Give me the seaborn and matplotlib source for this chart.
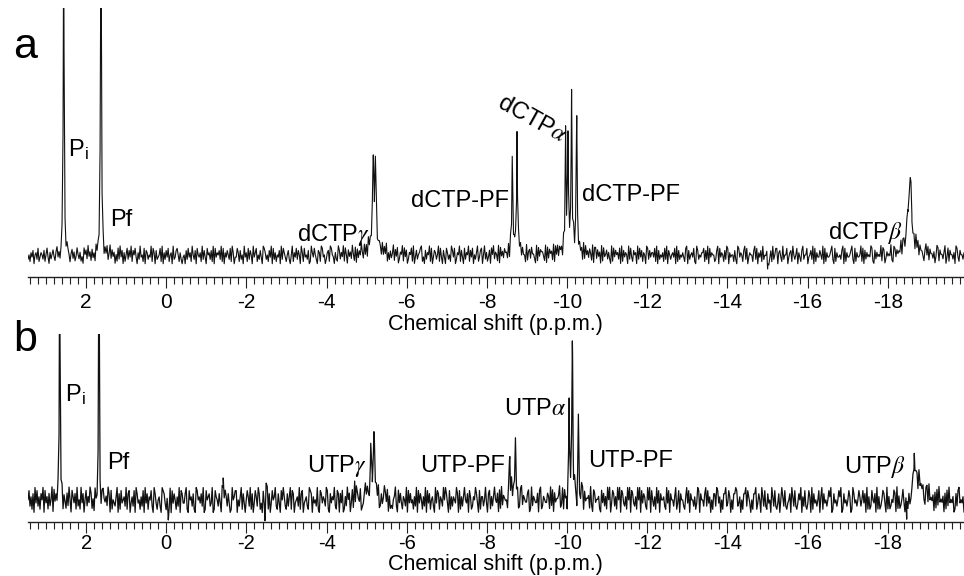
import numpy as np
import pandas as pd
import matplotlib
matplotlib.use("Agg")
import matplotlib.pyplot as plt
import seaborn as sns
from matplotlib.ticker import FixedLocator, FixedFormatter, MultipleLocator

# ---------------- data ----------------
X_LEFT, X_RIGHT = 3.45, -19.9          # ppm shown
TICKS = [2, 0, -2, -4, -6, -8, -10, -12, -14, -16, -18]
TICK_LABELS = ["2", "0", "-2", "-4", "-6", "-8", "-10", "-12", "-14", "-16", "-18"]

# baseline noise traces (digit codes, one per ~0.025 ppm, centred on 5)
NOISE_A = ("3526471563824653725841635742683514762538641573624853"
           "6241857394627351846295371648259374615283947162583749"
           "2758416394528176354928617345829163748256193478526314"
           "5173846295371854629374185637291846573928164753829614"
           "4862735194628375194682537419863527491836254719386425"
           "7315926483751962845371296485317629845136729854163297"
           "3649285174639528173649528371946258379146528374915263"
           "5927481365928471365829147356892417365928147635928417"
           "4186352974813659274183659274815369247815936247185936"
           "5291846375528193746612958374419267385531928476642918"
           "3756291848375619284473562918853746192846375291883746"
           "1928457363192847563819274651938427561938472651983746"
           "6482917354628391753564819273546428917356482197354668"
           "2739184655237918465273981645527319846527938146552793"
           "8164729355861472935881674293558146729535816427935581"
           "4573918264475391826445793182644537918264457931826445"
           "9281736454982173645492871364549218736454928713645492"
           "3619482755316948275536149827553691482755361984275536")
NOISE_B = ("5836271948362759184627359184637295816427395186472935"
           "2947158364972518436921785463971825436917284563927814"
           "6381974526381947265831974256319874265391847526391874"
           "4792185637219856473912856734912865374192586374129568"
           "8153692741586392714863972418536927148569327418596327"
           "3692871456392781456329871645392187465398217465932871"
           "7481263957148263975481236957412836957481263597481623"
           "2569318474265391847452639184752639184725631948726539"
           "5974182636549718263695471862365974182663594178263695"
           "4718293654417829365447128936544781293654471892365447"
           "6293817455692381745562398174556239817455629318745562"
           "1847362959148736295918743629591874362959184763295918"
           "5362948175563294817553692481755326948175536249817553"
           "7938461527739846152779348615277983461527793864152779"
           "2475196383274519638324715963832457196383247591638324"
           "8619274535816927453586912745358691274535861297453586"
           "3584719262385471926235874192623548719262358417926235"
           "6127839454621783945461728394546172839454612738945461")
NOISE_SCALE_A = 2.2
NOISE_SCALE_B = 3.1

# peak tables: position (ppm), height, half-width (ppm)
PEAK_POS_A = [2.56, 1.63, -5.16, -5.22, -5.19, -8.63, -8.75, -8.69,
              -9.96, -10.02, -10.11, -10.24, -10.10, -18.56, -18.50, -18.60, -15.0]
PEAK_H_A = [330, 330, 76, 74, 18, 90, 115, 10,
            110, 106, 146, 130, 14, 56, 24, 10, -14]
PEAK_W_A = [0.012, 0.014, 0.018, 0.018, 0.12, 0.012, 0.012, 0.10,
            0.012, 0.012, 0.012, 0.012, 0.15, 0.035, 0.06, 0.15, 0.01]

PEAK_POS_B = [2.66, 1.68, -4.70, -5.10, -5.18, -5.14, -8.57, -8.71, -8.65,
              -10.05, -10.13, -10.28, -10.00, -10.24, -10.15,
              -18.66, -18.80, -18.47, -1.42, -2.49, -2.46, -0.05]
PEAK_H_B = [260, 260, 18, 44, 56, 12, 38, 56, 8,
            92, 145, 80, -20, -22, 12,
            40, 16, -22, 22, 18, -22, -20]
PEAK_W_B = [0.010, 0.010, 0.008, 0.015, 0.015, 0.12, 0.012, 0.012, 0.10,
            0.012, 0.012, 0.012, 0.008, 0.008, 0.12,
            0.03, 0.12, 0.012, 0.008, 0.008, 0.008, 0.008]

LABELS_A = ["dCTP$\\gamma$", "dCTP-PF", "dCTP-PF", "dCTP$\\beta$"]
LABEL_X_A = [-4.16, -7.33, -11.60, -17.43]
LABEL_Y_A = [14, 48, 54, 16]
LABELS_B = ["UTP$\\gamma$", "UTP-PF", "UTP$\\alpha$", "UTP-PF", "UTP$\\beta$"]
LABEL_X_B = [-4.25, -7.39, -9.20, -11.58, -17.68]
LABEL_Y_B = [28, 28, 85, 33, 27]

# ---------------- style ----------------
sns.set_style("white")
plt.rcParams["font.family"] = ["Liberation Sans", "DejaVu Sans"]
plt.rcParams["mathtext.fontset"] = "stix"
plt.rcParams["axes.unicode_minus"] = False
plt.rcParams["text.color"] = "black"
plt.rcParams["xtick.color"] = "black"
plt.rcParams["axes.labelcolor"] = "black"

W, H = 964, 576
fig = plt.figure(figsize=(W / 100, H / 100), dpi=100)
ax_a = fig.add_axes([28 / W, 1 - 277 / H, 936 / W, 269 / H])
ax_b = fig.add_axes([28 / W, 1 - 522 / H, 936 / W, 188 / H])


def build(noise, scale, pos, hts, wid):
    vals = np.array([int(c) for c in noise], dtype=float)
    xg = np.linspace(X_LEFT, X_RIGHT, len(vals))
    df = pd.concat([pd.DataFrame({"ppm": xg, "I": (vals - 5) * scale}),
                    pd.DataFrame({"ppm": pos, "I": 0.0})], ignore_index=True)
    x = df["ppm"].to_numpy()
    total = np.zeros_like(x)
    for p, h, w in zip(pos, hts, wid):
        total += h * w ** 2 / ((x - p) ** 2 + w ** 2)
    df["I"] = df["I"] + total
    return df.sort_values("ppm").reset_index(drop=True)


def style_axis(ax, ylim, label_y, pad, tsize):
    ax.set_xlim(X_LEFT, X_RIGHT)
    ax.set_ylim(*ylim)
    for s in ["top", "left", "right"]:
        ax.spines[s].set_visible(False)
    ax.spines["bottom"].set_color("#222222")
    ax.spines["bottom"].set_linewidth(1.0)
    ax.set_yticks([])
    ax.set_ylabel("")
    ax.xaxis.set_major_locator(FixedLocator(TICKS))
    ax.xaxis.set_major_formatter(FixedFormatter(TICK_LABELS))
    ax.xaxis.set_minor_locator(MultipleLocator(0.2))
    ax.tick_params(axis="x", which="major", direction="out", length=8, width=0.8,
                   color="#222222", labelcolor="black", labelsize=tsize, pad=pad,
                   bottom=True)
    ax.tick_params(axis="x", which="minor", direction="out", length=5, width=0.8,
                   color="#222222", bottom=True)
    ax.set_xlabel("Chemical shift (p.p.m.)", fontsize=15.5, color="black")
    ax.xaxis.set_label_coords(0.499, label_y)
    ax.xaxis.label.set_va("center")
    ax.patch.set_alpha(0)


df_a = build(NOISE_A, NOISE_SCALE_A, PEAK_POS_A, PEAK_H_A, PEAK_W_A)
df_b = build(NOISE_B, NOISE_SCALE_B, PEAK_POS_B, PEAK_H_B, PEAK_W_B)

sns.lineplot(data=df_a, x="ppm", y="I", ax=ax_a, color="#111111", lw=0.8,
             estimator=None, sort=True)
sns.lineplot(data=df_b, x="ppm", y="I", ax=ax_b, color="#111111", lw=0.9,
             estimator=None, sort=True)

style_axis(ax_a, (-22, 247), -0.178, 3.5, 15)
style_axis(ax_b, (-22, 166), -0.226, 0.5, 14.5)

lab = dict(fontsize=17, color="black")
# panel a labels
ax_a.text(2.45, 98, "P$_\\mathregular{i}$", ha="left", va="baseline", **lab)
ax_a.text(1.40, 29, "Pf", ha="left", va="baseline", **lab)
for s, x, y in zip(LABELS_A, LABEL_X_A, LABEL_Y_A):
    ax_a.text(x, y, s, ha="center", va="baseline", **lab)
ax_a.text(-9.12, 136, "dCTP$\\alpha$", ha="center", va="center", rotation=-29,
          rotation_mode="anchor", **lab)
# panel b labels
ax_b.text(2.53, 98, "P$_\\mathregular{i}$", ha="left", va="baseline", **lab)
ax_b.text(1.48, 31, "Pf", ha="left", va="baseline", **lab)
for s, x, y in zip(LABELS_B, LABEL_X_B, LABEL_Y_B):
    ax_b.text(x, y, s, ha="center", va="baseline", **lab)

fig.text(13 / W, 1 - 58 / H, "a", fontsize=31, va="baseline", ha="left", color="black")
fig.text(13 / W, 1 - 351 / H, "b", fontsize=31, va="baseline", ha="left", color="black")

fig.savefig("out.png", dpi=100)
